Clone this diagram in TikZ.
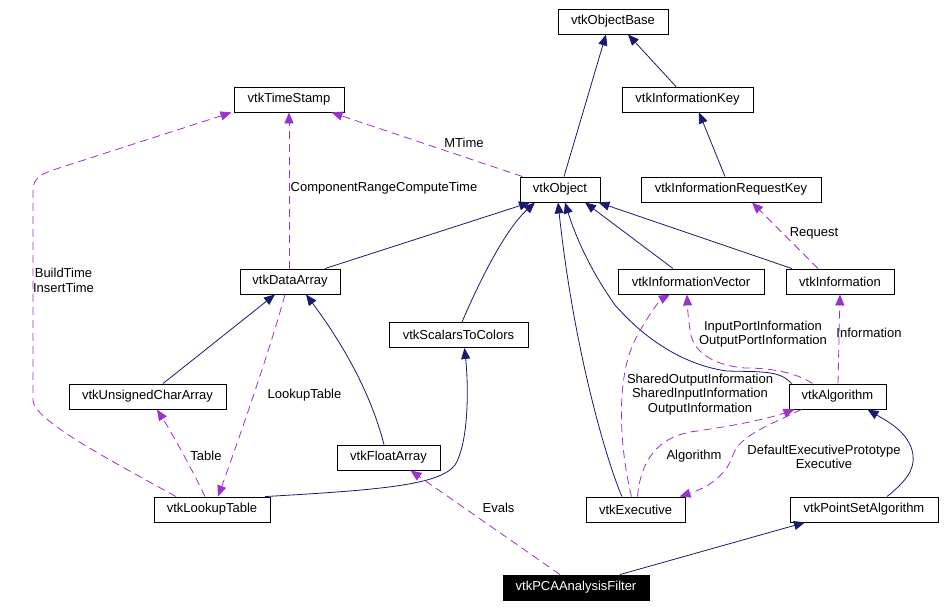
\documentclass[tikz,border=0pt]{standalone}
\usepackage{fontspec}
\setmainfont{Liberation Sans}
\usetikzlibrary{arrows.meta}
\definecolor{inhblue}{HTML}{191970}
\definecolor{usepurple}{HTML}{9A32CD}
\begin{document}
\begin{tikzpicture}[x=1pt,y=-1pt,
  cls/.style={draw=black,line width=0.9pt,minimum height=25pt,inner sep=0pt,fill=white,font=\fontsize{13}{15}\selectfont},
  hl/.style={cls,fill=black,text=white},
  inh/.style={draw=inhblue,line width=0.8pt,-{Triangle[length=11pt,width=9pt]},fill=none},
  use/.style={draw=usepurple,line width=0.8pt,dash pattern=on 8pt off 5pt,-{Triangle[length=11pt,width=9pt]}},
  lbl/.style={font=\fontsize{13}{14.5}\selectfont,align=center,inner sep=0pt}]
\useasboundingbox (0,0) rectangle (946,607);
\fill[white] (0,0) rectangle (946,607);

% nodes
\node[cls,minimum width=110pt] (objbase) at (613,21.5) {vtkObjectBase};
\node[cls,minimum width=131pt] (infokey) at (687.5,99.5) {vtkInformationKey};
\node[cls,minimum width=110pt] (ts) at (289,99.5) {vtkTimeStamp};
\node[cls,minimum width=80pt] (obj) at (560,189.5) {vtkObject};
\node[cls,minimum width=180pt] (reqkey) at (731,189.5) {vtkInformationRequestKey};
\node[cls,minimum width=100pt] (da) at (290,281.5) {vtkDataArray};
\node[cls,minimum width=146pt] (iv) at (691,281.5) {vtkInformationVector};
\node[cls,minimum width=108pt] (info) at (840,281.5) {vtkInformation};
\node[cls,minimum width=139pt] (sc) at (458.5,335) {vtkScalarsToColors};
\node[cls,minimum width=157pt] (uc) at (147.5,396.5) {vtkUnsignedCharArray};
\node[cls,minimum width=97pt] (algo) at (837.5,396.5) {vtkAlgorithm};
\node[cls,minimum width=103pt] (fa) at (388.5,457.5) {vtkFloatArray};
\node[cls,minimum width=116pt] (lut) at (212,509.5) {vtkLookupTable};
\node[cls,minimum width=99pt] (ex) at (635.5,509.5) {vtkExecutive};
\node[cls,minimum width=148pt] (psa) at (864,509.5) {vtkPointSetAlgorithm};
\node[hl,minimum width=146pt] (pca) at (576,587.5) {vtkPCAAnalysisFilter};

% inheritance edges
\draw[inh] ([xshift=4pt]obj.north) -- ([xshift=-7pt]objbase.south);
\draw[inh] ([xshift=-11.5pt]infokey.north) -- ([xshift=15pt]objbase.south);
\draw[inh] ([xshift=-6pt]reqkey.north) -- ([xshift=11.5pt]infokey.south);
\draw[inh] ([xshift=35pt]da.north) -- ([xshift=-30pt]obj.south);
\draw[inh] ([xshift=3.5pt]sc.north) .. controls (480,280) and (505,230) .. ([xshift=-25pt]obj.south);
\draw[inh] ([xshift=-13.5pt]ex.north) .. controls (610,470) and (575,360) .. ([xshift=-2pt]obj.south);
\draw[inh] ([xshift=3pt]algo.north west) .. controls (780,370) and (760,372) .. (727,371)
   .. controls (690,366) and (650,345) .. (615,305) .. controls (590,270) and (575,235) .. ([xshift=5pt]obj.south);
\draw[inh] ([xshift=-18pt]iv.north) -- ([xshift=25pt]obj.south);
\draw[inh] ([xshift=-48pt]info.north) -- ([xshift=-2pt]obj.south east);
\draw[inh] ([xshift=15.5pt]uc.north) -- ([xshift=-15pt]da.south);
\draw[inh] ([xshift=-4.5pt]fa.north) .. controls (370,390) and (340,340) .. ([xshift=16pt]da.south);
\draw[inh] ([xshift=53pt]lut.north) .. controls (380,490) and (440,485) .. (455,465)
   .. controls (470,440) and (468,380) .. ([xshift=6pt]sc.south);
\draw[inh] ([xshift=44pt]pca.north) -- ([xshift=-59pt]psa.south);
\draw[inh] ([xshift=23pt]psa.north) .. controls (905,482) and (915,470) .. (913,455)
   .. controls (910,432) and (885,420) .. ([xshift=30pt]algo.south);

% usage edges
\draw[use] ([xshift=3pt]obj.north west) -- ([xshift=-13pt]ts.south east);
\draw[use] ([xshift=-1pt]da.north) -- (ts.south);
\draw[use] ([xshift=-36pt]lut.north) .. controls (110,460) and (33,420) .. (33,400) -- (33,190)
   .. controls (33,178) and (42,174) .. (53,170) -- ([xshift=-2pt]ts.south west);
\draw[use] ([xshift=-22pt]info.north) -- ([xshift=21pt]reqkey.south);
\draw[use] ([xshift=-5pt]da.south) .. controls (270,350) and (235,450) .. ([xshift=6pt]lut.north);
\draw[use] ([xshift=-7pt]lut.north) .. controls (190,465) and (170,430) .. ([xshift=9.5pt]uc.south);
\draw[use] ([xshift=-16pt]pca.north) -- ([xshift=22pt]fa.south);
\draw[use] ([xshift=0.5pt]algo.north) -- (info.south);
\draw[use] ([xshift=-25pt]algo.north) .. controls (795,372) and (770,368) .. (745,368)
   .. controls (710,365) and (692,350) .. (690,330) .. controls (688,315) .. ([xshift=-4pt]iv.south);
\draw[use] ([xshift=-4pt]ex.north) .. controls (620,450) and (615,380) .. (635,340)
   .. controls (645,320) and (660,300) .. ([xshift=-21pt]iv.south);
\draw[use] ([xshift=2pt]ex.north) .. controls (640,470) and (650,440) .. (690,432)
   .. controls (740,425) and (770,418) .. ([xshift=-43pt]algo.south);
\draw[use] ([xshift=-36pt]algo.south) .. controls (770,425) and (740,435) .. (733,455)
   .. controls (725,480) and (700,490) .. ([xshift=44pt]ex.north);

% labels
\node[lbl] (lmtime) at (464,143) {MTime};
\node[lbl] (lcrct) at (384,188) {ComponentRangeComputeTime};
\node[lbl] (lbuild) at (63.5,280.5) {BuildTime\\InsertTime};
\node[lbl] (llut) at (304.5,395) {LookupTable};
\node[lbl] (ltable) at (206,456) {Table};
\node[lbl] (levals) at (498.5,508) {Evals};
\node[lbl] (lport) at (763,334) {InputPortInformation\\OutputPortInformation};
\node[lbl] (linfo) at (869,333) {Information};
\node[lbl] (lshared) at (700,394.5) {SharedOutputInformation\\SharedInputInformation\\OutputInformation};
\node[lbl] (lalgo) at (694,456) {Algorithm};
\node[lbl] (ldef) at (824,457) {DefaultExecutivePrototype\\Executive};
\node[lbl] (lreq) at (814,233) {Request};
\end{tikzpicture}
\end{document}
